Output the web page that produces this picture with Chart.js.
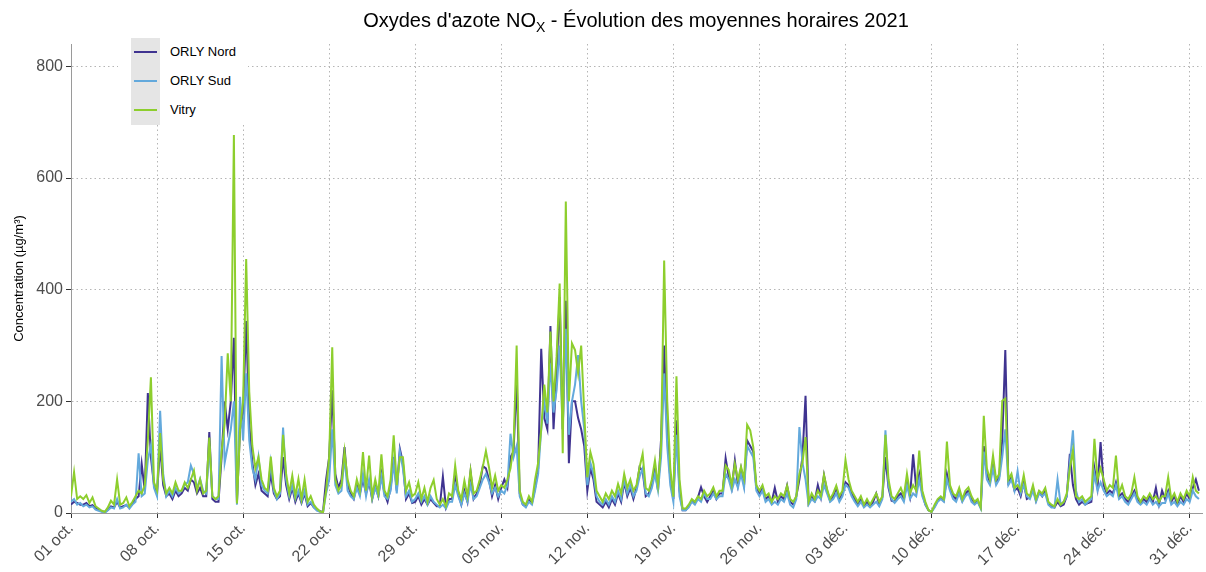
<!DOCTYPE html>
<html>
<head>
<meta charset="utf-8">
<script src="https://cdn.jsdelivr.net/npm/chart.js@4.4.0/dist/chart.umd.min.js"></script>
<style>
    body { margin: 0; background: #fff; font-family: "Liberation Sans", Arial, sans-serif; }
    #cadre { position: relative; width: 1206px; height: 572px; }
    #titre { position: absolute; left: 71px; width: 1130px; top: 9px; line-height: 22px; text-align: center; font-size: 20px; color: #000; }
    #titre sub { font-size: 14px; line-height: 0; }
    #legende { position: absolute; left: 118px; top: 37px; width: 130px; height: 88px; background: #fff; }
    #legende .cle { position: absolute; left: 13px; top: 1px; width: 29px; height: 87px; background: #e5e5e5; }
    #legende .trait { position: absolute; left: 16px; width: 23px; height: 2px; }
    #legende .nom { position: absolute; left: 52px; font-size: 13px; color: #000; }
</style>
</head>
<body>
<div id="cadre">
    <canvas id="graphique" width="1206" height="572"></canvas>
    <div id="titre">Oxydes d'azote NO<sub>X</sub> - Évolution des moyennes horaires 2021</div>
    <div id="legende"><div class="cle"></div></div>
</div>
<script>
// moyennes horaires, 4 valeurs par jour (0h, 6h, 12h, 18h) du 01/10 au 31/12
var pointsParJour = 4;

var orlyNord = [
    15,20,18,15, 15,18,12,14, 8,6,3,2, 6,12,10,20, 10,12,14,10, 18,25,30,88, 40,215,100,50,
    35,120,50,30, 35,25,40,30, 35,45,40,60, 55,35,45,30, 30,145,25,20, 20,100,200,150, 200,314,20,150,
    180,344,160,90, 50,70,40,35, 30,70,35,25, 30,100,50,25, 45,20,35,18, 35,12,18,10, 6,3,2,60,
    100,220,70,45, 60,118,50,35, 25,50,35,60, 35,55,25,50, 30,70,35,20, 45,100,40,115, 90,25,35,18,
    20,30,15,25, 15,25,18,12, 12,65,10,25, 25,70,35,15, 40,20,74,25, 35,50,84,80, 60,30,50,25,
    45,60,45,100, 110,240,35,15, 12,25,18,45, 80,294,170,150, 335,150,250,387, 150,380,89,200, 200,170,150,120,
    40,80,60,20, 15,10,20,10, 25,15,35,20, 55,30,45,25, 45,82,75,30, 35,50,80,40, 133,300,150,60,
    25,166,40,5, 5,12,22,18, 28,46,30,20, 30,40,25,35, 35,98,65,45, 94,50,80,50, 130,120,110,45,
    35,45,25,30, 20,45,20,30, 25,49,20,15, 30,60,100,210, 18,30,22,50, 28,68,40,22, 30,45,25,35,
    55,50,35,25, 15,25,12,20, 12,20,35,15, 28,100,45,22, 20,30,35,25, 55,30,105,45, 70,35,15,5,
    2,12,22,28, 22,70,45,30, 25,40,22,35, 40,25,18,22, 10,120,70,55, 90,55,65,130, 292,55,65,40,
    45,30,55,25, 28,45,22,38, 30,40,18,12, 10,20,12,15, 30,106,50,25, 15,20,15,18, 20,80,45,127,
    50,35,40,35, 55,30,35,25, 20,30,40,25, 18,25,20,30, 20,45,15,40, 25,40,20,30, 15,30,20,35,
    25,45,60,40
];

var orlySud = [
    20,25,15,18, 12,15,10,12, 6,4,2,0, 5,10,8,25, 8,10,15,8, 15,20,107,30, 35,95,121,45,
    30,183,70,30, 40,30,45,35, 40,50,55,85, 70,45,61,40, 35,120,30,25, 25,281,90,120, 150,200,15,208,
    130,250,130,80, 60,100,50,40, 35,90,40,25, 35,153,60,30, 50,25,40,20, 40,15,20,10, 4,2,1,35,
    60,150,50,35, 40,100,40,30, 25,45,30,70, 30,60,25,45, 30,65,30,25, 40,90,35,110, 80,30,40,20,
    25,35,20,30, 15,30,20,15, 10,15,8,20, 20,50,30,15, 35,20,50,25, 30,45,60,70, 55,35,45,30,
    40,35,50,142, 100,120,30,15, 10,20,15,40, 70,150,200,160, 268,180,220,300, 150,330,140,200, 230,283,200,150,
    50,90,70,30, 20,15,25,15, 30,20,40,25, 60,35,50,30, 40,65,80,35, 30,45,70,40, 100,250,120,50,
    20,140,30,5, 5,10,20,15, 25,20,35,25, 25,35,25,30, 30,70,60,40, 60,45,70,45, 120,110,100,40,
    30,40,20,25, 15,20,15,25, 20,35,15,10, 25,154,90,60, 15,25,20,30, 25,50,35,20, 25,35,20,30,
    50,45,30,20, 12,20,10,15, 10,15,20,12, 25,148,50,25, 18,25,30,20, 50,25,35,30, 60,30,15,5,
    2,10,20,25, 20,60,40,25, 20,35,20,30, 35,20,15,20, 8,110,60,50, 80,50,60,100, 150,50,60,40,
    75,35,50,30, 25,40,20,35, 30,35,15,10, 10,60,15,20, 30,90,148,40, 20,25,15,20, 25,70,40,55,
    40,30,35,30, 50,25,30,20, 15,25,35,20, 15,20,15,25, 15,20,12,18, 18,35,15,20, 12,20,15,25,
    20,40,30,25
];

var vitry = [
    30,73,25,30, 25,32,18,28, 12,8,4,2, 10,22,15,60, 15,18,28,12, 20,30,40,35, 50,130,243,55,
    40,143,60,35, 45,35,55,40, 40,55,45,60, 76,40,60,35, 40,135,30,25, 30,110,160,286, 200,677,17,150,
    200,455,217,120, 80,100,60,45, 40,101,45,30, 40,140,70,35, 67,30,61,25, 60,20,30,15, 8,3,1,40,
    100,297,60,40, 50,110,60,40, 30,60,40,109, 40,103,30,60, 35,105,40,30, 60,139,50,100, 100,40,55,30,
    35,55,25,45, 20,45,59,25, 15,25,12,35, 30,85,40,25, 58,30,76,35, 40,60,83,111, 82,45,67,40,
    50,45,60,80, 120,300,40,20, 15,30,20,60, 90,150,230,180, 325,200,280,411, 107,558,200,304, 292,250,300,180,
    64,109,88,40, 30,20,35,25, 40,30,52,35, 70,45,60,40, 50,82,106,45, 40,60,94,50, 120,452,200,80,
    29,245,60,8, 8,15,25,20, 30,25,40,30, 35,46,30,40, 40,85,77,50, 88,60,83,61, 158,148,118,50,
    40,50,30,35, 20,30,25,35, 30,49,25,20, 30,70,90,136, 20,35,25,40, 30,68,43,25, 35,49,30,40,
    95,60,40,30, 20,30,15,25, 15,25,35,20, 30,140,60,30, 25,35,45,30, 70,35,50,40, 112,40,20,5,
    2,15,25,30, 25,128,50,35, 30,45,25,40, 46,30,20,25, 10,174,80,60, 103,60,70,201, 205,60,70,45,
    50,40,68,35, 30,50,25,40, 35,45,20,15, 12,25,15,20, 35,80,112,30, 25,30,20,25, 30,133,60,80,
    60,40,50,45, 103,35,50,30, 25,35,64,30, 20,30,25,35, 25,30,20,30, 30,64,25,35, 20,35,25,40,
    30,64,40,35
];

var nomsSeries = ["ORLY Nord", "ORLY Sud", "Vitry"];
var couleurs = ["#3f3390", "#63a9dc", "#8dce2d"];

// graduations : jours depuis le 01/10
var joursTicks = [0, 7, 14, 21, 28, 35, 42, 49, 56, 63, 70, 77, 84, 91];
var etiquettesX = ["01 oct.", "08 oct.", "15 oct.", "22 oct.", "29 oct.", "05 nov.", "12 nov.",
    "19 nov.", "26 nov.", "03 déc.", "10 déc.", "17 déc.", "24 déc.", "31 déc."];
var valeursY = [0, 200, 400, 600, 800];

var police = "'Liberation Sans', Arial, sans-serif";

function versPoints(valeurs) {
    var points = [];
    for (var i = 0; i < valeurs.length; i++) {
        points.push({ x: i / pointsParJour, y: valeurs[i] });
    }
    return points;
}

function construireDatasets() {
    var series = [orlyNord, orlySud, vitry];
    var datasets = [];
    for (var i = 0; i < series.length; i++) {
        datasets.push({
            label: nomsSeries[i],
            data: versPoints(series[i]),
            borderColor: couleurs[i],
            backgroundColor: couleurs[i],
            borderWidth: 2,
            pointRadius: 0,
            tension: 0,
            fill: false,
            order: series.length - i  // Vitry dessinée au-dessus
        });
    }
    return datasets;
}

function construireLegende() {
    var legende = document.getElementById("legende");
    for (var i = 0; i < nomsSeries.length; i++) {
        var haut = 15 + i * 29;
        var trait = document.createElement("div");
        trait.className = "trait";
        trait.style.top = (haut - 1) + "px";
        trait.style.background = couleurs[i];
        legende.appendChild(trait);
        var nom = document.createElement("div");
        nom.className = "nom";
        nom.style.top = (haut - 8) + "px";
        nom.textContent = nomsSeries[i];
        legende.appendChild(nom);
    }
}

var graphique = new Chart(document.getElementById("graphique"), {
    type: "line",
    data: { datasets: construireDatasets() },
    options: {
        responsive: false,
        animation: false,
        parsing: false,
        layout: { padding: { top: 44, right: 4, left: 0, bottom: 0 } },
        plugins: {
            legend: { display: false },
            tooltip: { enabled: false }
        },
        scales: {
            x: {
                type: "linear",
                min: 0,
                max: 92,
                afterBuildTicks: function (axe) {
                    axe.ticks = joursTicks.map(function (v) { return { value: v }; });
                },
                afterFit: function (axe) { axe.height = 59; },
                ticks: {
                    autoSkip: false,
                    maxRotation: 45,
                    minRotation: 45,
                    padding: 1,
                    color: "#4d4d4d",
                    font: { family: police, size: 16 },
                    callback: function (v, i) { return etiquettesX[i]; }
                },
                grid: { color: "#b5b5b5", lineWidth: 1, tickLength: 5, tickColor: "#333", tickWidth: 1 },
                border: { color: "#9a9a9a", width: 1, dash: [1.5, 3] }
            },
            y: {
                min: 0,
                max: 840,
                afterBuildTicks: function (axe) {
                    axe.ticks = valeursY.map(function (v) { return { value: v }; });
                },
                afterFit: function (axe) { axe.width = 71; },
                ticks: {
                    padding: 3,
                    color: "#4d4d4d",
                    font: { family: police, size: 16 }
                },
                grid: { color: "#b5b5b5", lineWidth: 1, tickLength: 5, tickColor: "#333", tickWidth: 1 },
                border: { color: "#9a9a9a", width: 1, dash: [1.5, 3] },
                title: {
                    display: true,
                    text: "Concentration (µg/m³)",
                    color: "#000",
                    font: { family: police, size: 13 },
                    padding: { top: 12, bottom: 0 }
                }
            }
        }
    }
});

construireLegende();
</script>
</body>
</html>
